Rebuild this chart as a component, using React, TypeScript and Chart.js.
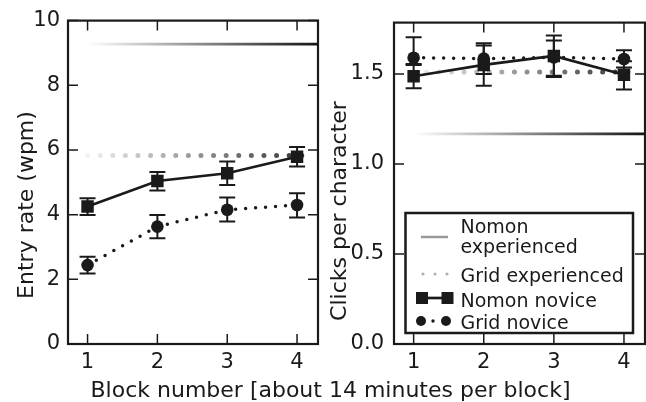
import React, { useEffect, useRef } from "react";
import { Chart, registerables } from "chart.js";
Chart.register(...registerables);

// ---------- data ----------
const blocks = [1, 2, 3, 4];
const xTickValues = [1, 2, 3, 4];
const experiencedStart = 1;
const experiencedSolidEnd = 4.3;
const experiencedDottedEnd = 4.15;

// Entry rate (wpm)
const rateNomonNovice = [4.25, 5.04, 5.28, 5.79];
const rateNomonNoviceLo = [3.99, 4.75, 4.92, 5.49];
const rateNomonNoviceHi = [4.51, 5.32, 5.64, 6.09];
const rateGridNovice = [2.44, 3.63, 4.15, 4.3];
const rateGridNoviceLo = [2.18, 3.27, 3.79, 3.91];
const rateGridNoviceHi = [2.7, 3.99, 4.53, 4.66];
const rateNomonExperienced = 9.27;
const rateGridExperienced = 5.83;
const rateTicks = [0, 2, 4, 6, 8, 10];

// Clicks per character
const clicksNomonNovice = [1.487, 1.55, 1.6, 1.495];
const clicksNomonNoviceLo = [1.42, 1.434, 1.49, 1.413];
const clicksNomonNoviceHi = [1.555, 1.67, 1.714, 1.57];
const clicksGridNovice = [1.59, 1.585, 1.592, 1.583];
const clicksGridNoviceLo = [1.55, 1.5, 1.483, 1.535];
const clicksGridNoviceHi = [1.704, 1.658, 1.686, 1.631];
const clicksNomonExperienced = 1.167;
const clicksGridExperienced = 1.511;
const clicksTicks = [0, 0.5, 1.0, 1.5];

const legendLabels = ["Nomon", "experienced", "Grid experienced", "Nomon novice", "Grid novice"];
const xTitle = "Block number [about 14 minutes per block]";

// ---------- styling ----------
const FONT = "'DejaVu Sans', 'Liberation Sans', sans-serif";
const INK = "#1a1a1a";
const W = 323;
const H = 402;
const TICK_FONT = 21;

function gradientColor(chart: any, from: number, to: number, rgb: string, a0: number, a1: number) {
  const area = chart.chartArea;
  if (!area) return `rgba(${rgb},${a1})`;
  const xs = chart.scales.x;
  const g = chart.ctx.createLinearGradient(xs.getPixelForValue(from), 0, xs.getPixelForValue(to), 0);
  g.addColorStop(0, `rgba(${rgb},${a0})`);
  g.addColorStop(1, `rgba(${rgb},${a1})`);
  return g;
}

const errorBarPlugin = {
  id: "errbars",
  beforeDatasetsDraw(chart: any) {
    const { ctx } = chart;
    const xs = chart.scales.x;
    const ys = chart.scales.y;
    ctx.save();
    ctx.strokeStyle = INK;
    ctx.lineWidth = 2;
    chart.data.datasets.forEach((ds: any) => {
      if (!ds.errLo) return;
      ds.data.forEach((p: any, i: number) => {
        const x = xs.getPixelForValue(p.x);
        const y0 = ys.getPixelForValue(ds.errLo[i]);
        const y1 = ys.getPixelForValue(ds.errHi[i]);
        const cw = 8;
        ctx.beginPath();
        ctx.moveTo(x, y0);
        ctx.lineTo(x, y1);
        ctx.moveTo(x - cw, y0);
        ctx.lineTo(x + cw, y0);
        ctx.moveTo(x - cw, y1);
        ctx.lineTo(x + cw, y1);
        ctx.stroke();
      });
    });
    ctx.restore();
  },
};

function framePlugin(yTitle: string, titleX: number, titleY: number, withLegend: boolean) {
  return {
    id: "frame",
    afterDraw(chart: any) {
      const { ctx, chartArea: a } = chart;
      const xs = chart.scales.x;
      const ys = chart.scales.y;
      ctx.save();
      // inward ticks
      ctx.strokeStyle = INK;
      ctx.lineWidth = 1.5;
      const tl = 10;
      ctx.beginPath();
      xs.ticks.forEach((t: any) => {
        const x = xs.getPixelForValue(t.value);
        ctx.moveTo(x, a.bottom);
        ctx.lineTo(x, a.bottom - tl);
        ctx.moveTo(x, a.top);
        ctx.lineTo(x, a.top + tl);
      });
      ys.ticks.forEach((t: any) => {
        const y = ys.getPixelForValue(t.value);
        ctx.moveTo(a.left, y);
        ctx.lineTo(a.left + tl, y);
        ctx.moveTo(a.right, y);
        ctx.lineTo(a.right - tl, y);
      });
      ctx.stroke();
      // frame
      ctx.lineWidth = 2.2;
      ctx.strokeRect(a.left, a.top, a.right - a.left, a.bottom - a.top);
      // y title
      ctx.fillStyle = INK;
      ctx.font = `22px ${FONT}`;
      ctx.translate(titleX, titleY);
      ctx.rotate(-Math.PI / 2);
      ctx.textAlign = "center";
      ctx.textBaseline = "middle";
      ctx.fillText(yTitle, 0, 0);
      ctx.restore();

      if (withLegend) {
        ctx.save();
        const bx = 82.5, by = 213, bw = 227.5, bh = 120;
        ctx.fillStyle = "#ffffff";
        ctx.fillRect(bx, by, bw, bh);
        ctx.strokeStyle = INK;
        ctx.lineWidth = 2.5;
        ctx.strokeRect(bx, by, bw, bh);
        const hx0 = 98, hx1 = 125;
        // Nomon experienced handle
        ctx.strokeStyle = "#999999";
        ctx.lineWidth = 2.5;
        ctx.beginPath();
        ctx.moveTo(hx0, 237);
        ctx.lineTo(hx1, 237);
        ctx.stroke();
        // Grid experienced handle
        ctx.fillStyle = "#b0b0b0";
        [100, 112, 124].forEach((x) => {
          ctx.beginPath();
          ctx.arc(x, 274, 1.6, 0, Math.PI * 2);
          ctx.fill();
        });
        // Nomon novice handle
        ctx.strokeStyle = INK;
        ctx.fillStyle = INK;
        ctx.lineWidth = 2.7;
        ctx.beginPath();
        ctx.moveTo(99, 298);
        ctx.lineTo(124.5, 298);
        ctx.stroke();
        ctx.fillRect(93, 292, 12, 12);
        ctx.fillRect(118.5, 292, 12, 12);
        // Grid novice handle
        ctx.beginPath();
        ctx.arc(98, 321, 5, 0, Math.PI * 2);
        ctx.fill();
        ctx.beginPath();
        ctx.arc(123, 321, 5, 0, Math.PI * 2);
        ctx.fill();
        ctx.beginPath();
        ctx.arc(110, 321, 1.7, 0, Math.PI * 2);
        ctx.fill();
        // labels
        ctx.fillStyle = INK;
        ctx.font = `19px ${FONT}`;
        ctx.textAlign = "left";
        ctx.textBaseline = "alphabetic";
        const tx = 137.5;
        ctx.fillText(legendLabels[0], tx, 233.3);
        ctx.fillText(legendLabels[1], tx, 253.3);
        ctx.fillText(legendLabels[2], tx, 281.7);
        ctx.fillText(legendLabels[3], tx, 306.5);
        ctx.fillText(legendLabels[4], tx, 329);
        ctx.restore();
      }
    },
  };
}

interface PanelSpec {
  nomon: number[];
  nomonLo: number[];
  nomonHi: number[];
  grid: number[];
  gridLo: number[];
  gridHi: number[];
  nomonExp: number;
  gridExp: number;
  yMin: number;
  yMax: number;
  yTicks: number[];
  yDecimals: number;
  yTitle: string;
  titleX: number;
  titleY: number;
  yWidth: number;
  padRight: number;
  tickPad: number;
  legend: boolean;
}

function buildConfig(p: PanelSpec): any {
  const pts = (vals: number[]) => blocks.map((b, i) => ({ x: b, y: vals[i] }));
  return {
    type: "line",
    data: {
      datasets: [
        {
          label: "Nomon novice",
          data: pts(p.nomon),
          errLo: p.nomonLo,
          errHi: p.nomonHi,
          borderColor: INK,
          backgroundColor: INK,
          borderWidth: 2.7,
          pointStyle: "rect",
          pointRadius: 8.8,
          pointBorderWidth: 0,
          pointBackgroundColor: INK,
        },
        {
          label: "Grid novice",
          data: pts(p.grid),
          errLo: p.gridLo,
          errHi: p.gridHi,
          borderColor: INK,
          backgroundColor: INK,
          borderWidth: 3.5,
          borderDash: [0, 10],
          borderCapStyle: "round",
          pointStyle: "circle",
          pointRadius: 6.3,
          pointBorderWidth: 0,
          pointBackgroundColor: INK,
        },
        {
          label: "Grid experienced",
          data: [
            { x: experiencedStart, y: p.gridExp },
            { x: experiencedDottedEnd, y: p.gridExp },
          ],
          borderColor: (c: any) => gradientColor(c.chart, experiencedStart, experiencedDottedEnd, "40,40,40", 0.06, 0.95),
          borderWidth: 5,
          borderDash: [0, 12.6],
          borderCapStyle: "round",
          pointRadius: 0,
        },
        {
          label: "Nomon experienced",
          data: [
            { x: experiencedStart, y: p.nomonExp },
            { x: experiencedSolidEnd, y: p.nomonExp },
          ],
          borderColor: (c: any) => gradientColor(c.chart, experiencedStart, experiencedSolidEnd, "20,20,20", 0.0, 1),
          borderWidth: 2.8,
          pointRadius: 0,
        },
      ],
    },
    options: {
      animation: false,
      responsive: false,
      devicePixelRatio: 1,
      layout: { autoPadding: false, padding: { top: 20, right: p.padRight, left: 0, bottom: 0 } },
      plugins: { legend: { display: false }, tooltip: { enabled: false } },
      scales: {
        x: {
          type: "linear",
          min: 0.72,
          max: 4.3,
          afterBuildTicks: (s: any) => {
            s.ticks = xTickValues.map((v) => ({ value: v }));
          },
          afterFit: (s: any) => {
            s.height = H - 344;
          },
          ticks: {
            autoSkip: false,
            maxRotation: 0,
            padding: 6,
            color: INK,
            font: { family: FONT, size: TICK_FONT },
            callback: (v: number) => String(v),
          },
          grid: { display: false, drawTicks: false },
          border: { display: false },
        },
        y: {
          type: "linear",
          min: p.yMin,
          max: p.yMax,
          afterBuildTicks: (s: any) => {
            s.ticks = p.yTicks.map((v) => ({ value: v }));
          },
          afterFit: (s: any) => {
            s.width = p.yWidth;
          },
          ticks: {
            padding: p.tickPad,
            color: INK,
            font: { family: FONT, size: TICK_FONT },
            callback: (v: number) => v.toFixed(p.yDecimals),
          },
          grid: { display: false, drawTicks: false },
          border: { display: false },
        },
      },
    },
    plugins: [errorBarPlugin, framePlugin(p.yTitle, p.titleX, p.titleY, p.legend)],
  };
}

function Panel({ spec, left }: { spec: PanelSpec; left: number }) {
  const ref = useRef<HTMLCanvasElement | null>(null);
  useEffect(() => {
    if (!ref.current) return;
    const chart = new Chart(ref.current, buildConfig(spec));
    return () => chart.destroy();
  }, []);
  return (
    <canvas
      ref={ref}
      width={W}
      height={H}
      style={{ position: "absolute", left, top: 0, width: W, height: H }}
    />
  );
}

const leftSpec: PanelSpec = {
  nomon: rateNomonNovice,
  nomonLo: rateNomonNoviceLo,
  nomonHi: rateNomonNoviceHi,
  grid: rateGridNovice,
  gridLo: rateGridNoviceLo,
  gridHi: rateGridNoviceHi,
  nomonExp: rateNomonExperienced,
  gridExp: rateGridExperienced,
  yMin: 0,
  yMax: 10,
  yTicks: rateTicks,
  yDecimals: 0,
  yTitle: "Entry rate (wpm)",
  titleX: 27,
  titleY: 205,
  yWidth: 68,
  padRight: 5,
  tickPad: 8,
  legend: false,
};

const rightSpec: PanelSpec = {
  nomon: clicksNomonNovice,
  nomonLo: clicksNomonNoviceLo,
  nomonHi: clicksNomonNoviceHi,
  grid: clicksGridNovice,
  gridLo: clicksGridNoviceLo,
  gridHi: clicksGridNoviceHi,
  nomonExp: clicksNomonExperienced,
  gridExp: clicksGridExperienced,
  yMin: 0,
  yMax: 1.785,
  yTicks: clicksTicks,
  yDecimals: 1,
  yTitle: "Clicks per character",
  titleX: 17,
  titleY: 211,
  yWidth: 71,
  padRight: 1,
  tickPad: 10,
  legend: true,
};

export default function App() {
  return (
    <div
      style={{
        position: "fixed",
        left: 0,
        top: 0,
        width: 646,
        height: 402,
        background: "#ffffff",
        overflow: "hidden",
      }}
    >
      <Panel spec={leftSpec} left={0} />
      <Panel spec={rightSpec} left={323} />
      <div
        style={{
          position: "absolute",
          left: 0,
          width: 661,
          top: 379,
          textAlign: "center",
          fontFamily: FONT,
          fontSize: 22,
          lineHeight: "22px",
          color: INK,
          whiteSpace: "nowrap",
        }}
      >
        {xTitle}
      </div>
    </div>
  );
}
